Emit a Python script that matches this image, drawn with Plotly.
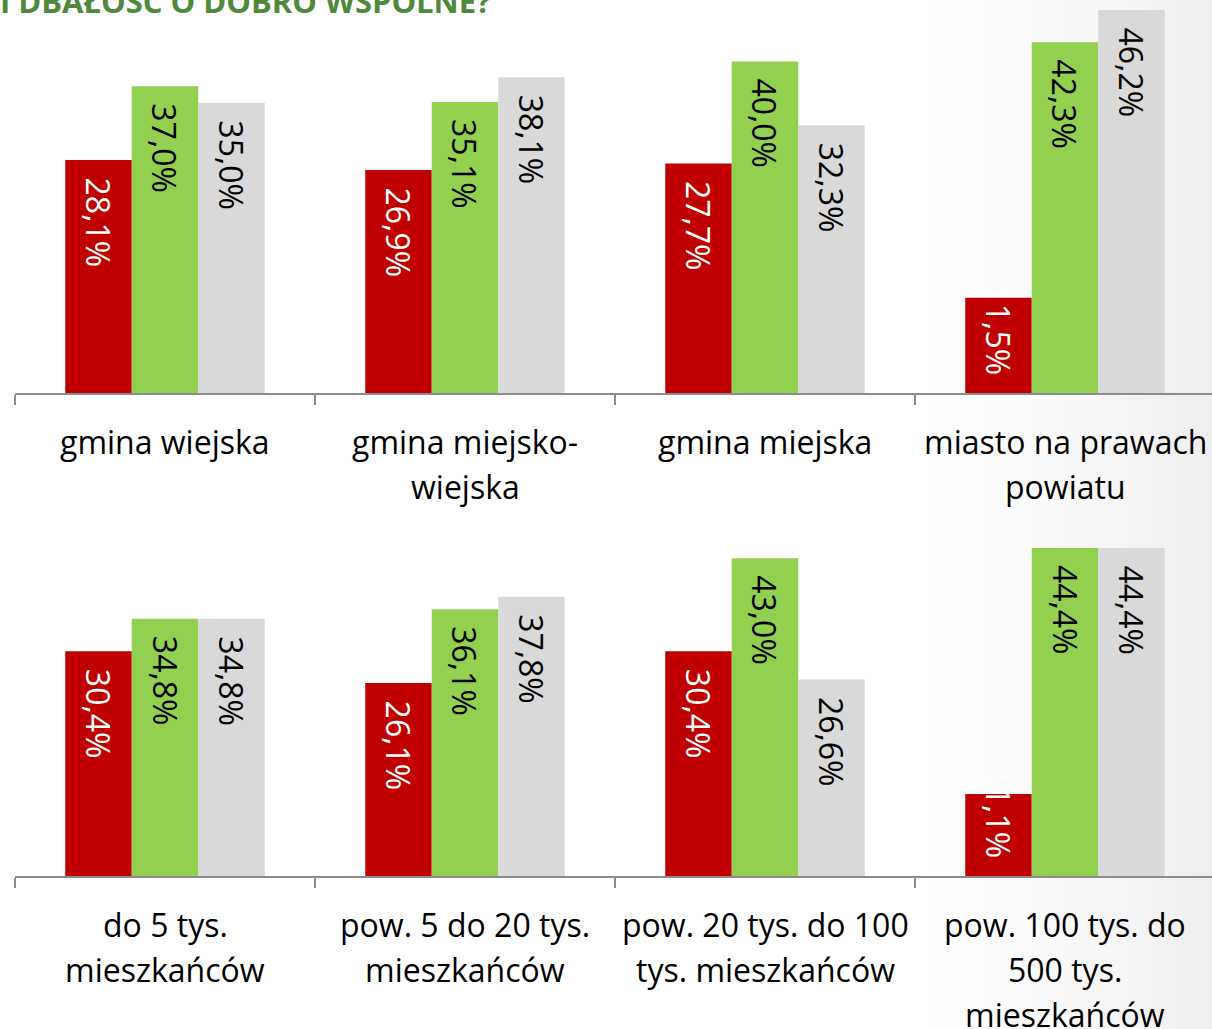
import plotly.graph_objects as go

# ---------------- data ----------------
categories_top = ["gmina wiejska", "gmina miejsko-<br>wiejska", "gmina miejska",
                  "miasto na prawach<br>powiatu"]
categories_bottom = ["do 5 tys.<br>mieszkańców", "pow. 5 do 20 tys.<br>mieszkańców",
                     "pow. 20 tys. do 100<br>tys. mieszkańców",
                     "pow. 100 tys. do<br>500 tys.<br>mieszkańców"]
red_top = [28.1, 26.9, 27.7, 11.5]
green_top = [37.0, 35.1, 40.0, 42.3]
gray_top = [35.0, 38.1, 32.3, 46.2]
red_bottom = [30.4, 26.1, 30.4, 11.1]
green_bottom = [34.8, 36.1, 43.0, 44.4]
gray_bottom = [34.8, 37.8, 26.6, 44.4]
series_names = ["Seria 1", "Seria 2", "Seria 3"]
title_text = "I DBAŁOŚĆ O DOBRO WSPÓLNE?"

# ---------------- style ----------------
W, H = 1212, 1029
FONT = "Open Sans"
colors = ["#C00000", "#92D050", "#D9D9D9"]
label_colors = ["white", "black", "black"]
axis_color = "#8C8C8C"
BARGAP = 0.335
cat_px = 300.0
bar_px = cat_px * (1 - BARGAP) / 3

x_domain = [15 / W, 1.0]
x_range = [-0.5, 3.49]
top_dom = [1 - 393 / H, 1.0]
top_range = [0, 47.41]
bot_dom = [1 - 876 / H, 1 - 506.5 / H]
bot_range = [0, 50]

fig = go.Figure()

panels = [
    ("x", "y", categories_top, [red_top, green_top, gray_top], top_dom, top_range),
    ("x2", "y2", categories_bottom, [red_bottom, green_bottom, gray_bottom], bot_dom, bot_range),
]

annotations = []
for xa, ya, cats, series, dom, rng in panels:
    px_per_unit = (dom[1] - dom[0]) * H / (rng[1] - rng[0])
    for k, vals in enumerate(series):
        fig.add_trace(go.Bar(
            x=cats, y=vals, name=series_names[k], xaxis=xa, yaxis=ya,
            marker=dict(color=colors[k], line=dict(width=0)),
            showlegend=False, hoverinfo="x+y",
        ))
        for c, v in zip(cats, vals):
            txt = f"{v:.1f}".replace(".", ",") + "%"
            fits = v * px_per_unit > 125
            annotations.append(dict(
                x=c, y=v if fits else 0, xref=xa, yref=ya,
                xshift=(k - 1) * bar_px,
                yshift=-15 if fits else 16,
                yanchor="top" if fits else "bottom",
                xanchor="center",
                text=txt, textangle=90, showarrow=False,
                font=dict(family=FONT, size=32, color=label_colors[k]),
            ))
    # category labels, one annotation per line
    for c in cats:
        for i, line in enumerate(c.split("<br>")):
            annotations.append(dict(
                x=c, y=0, xref=xa, yref=f"{ya} domain",
                yshift=-(48 + 45 * i), yanchor="middle", xanchor="center",
                text=line, showarrow=False,
                font=dict(family=FONT, size=32, color="black"),
            ))

# cut-off title at the very top
annotations.append(dict(
    x=493 / W, y=1 - 1 / H, xref="paper", yref="paper",
    xanchor="right", yanchor="middle", text=f"<b>{title_text}</b>",
    showarrow=False, font=dict(family=FONT, size=31, color="#4F8A3C"),
))

# subtle grey gradient on the right side of the page (solid strips)
shapes = []
N = 80
g0 = 0.74
for i in range(N):
    t = (i + 0.5) / N
    lvl = int(round(255 - 17 * t ** 1.6))
    shapes.append(dict(
        type="rect", xref="paper", yref="paper", layer="below",
        x0=g0 + i * (1 - g0) / N, x1=g0 + (i + 1) * (1 - g0) / N + 0.0005, y0=0, y1=1,
        fillcolor=f"rgb({lvl},{lvl},{lvl})", line=dict(width=0),
    ))

axis_common = dict(
    type="category", range=x_range, domain=x_domain,
    showline=True, linecolor=axis_color, linewidth=2,
    ticks="outside", tickson="boundaries", ticklen=10, tickwidth=2,
    tickcolor=axis_color, showticklabels=False, showgrid=False, zeroline=False,
    fixedrange=True,
)
fig.update_layout(
    width=W, height=H,
    margin=dict(l=0, r=0, t=0, b=0, pad=0),
    paper_bgcolor="white", plot_bgcolor="rgba(0,0,0,0)",
    barmode="group", bargap=BARGAP, bargroupgap=0,
    xaxis=dict(anchor="y", **axis_common),
    xaxis2=dict(anchor="y2", **axis_common),
    yaxis=dict(domain=top_dom, range=top_range, visible=False, anchor="x", fixedrange=True),
    yaxis2=dict(domain=bot_dom, range=bot_range, visible=False, anchor="x2", fixedrange=True),
    annotations=annotations,
    shapes=shapes,
    font=dict(family=FONT),
)

fig.write_html(
    "out.html",
    config={"displayModeBar": False},
    post_script="document.body.style.margin='0';document.body.style.overflow='hidden';",
)
